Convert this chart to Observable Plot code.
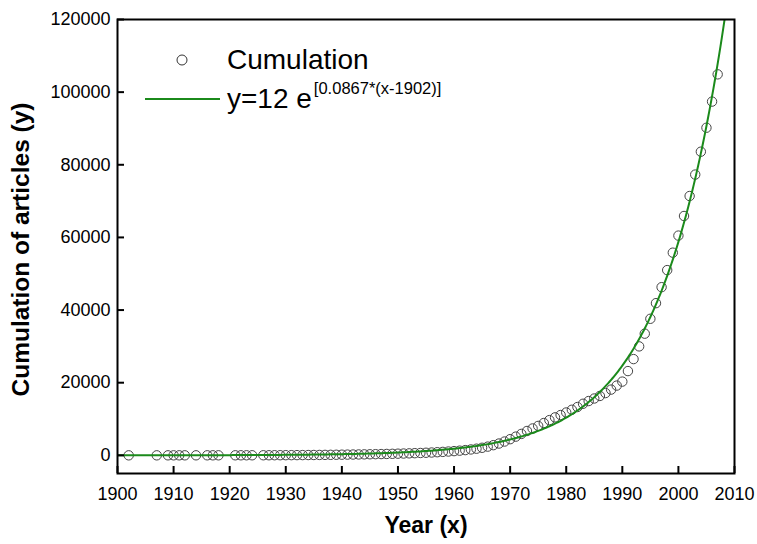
<!DOCTYPE html>
<html>
<head>
<meta charset="utf-8">
<script src="https://cdn.jsdelivr.net/npm/d3@7"></script>
<script src="https://cdn.jsdelivr.net/npm/@observablehq/plot@0.6"></script>
<style>
  html, body { margin: 0; padding: 0; background: #fff; }
  #chart { width: 757px; height: 544px; }
</style>
</head>
<body>
<div id="chart"></div>
<script>
// ---- data ----
const years = [1902,1907,1909,1910,1911,1912,1914,1916,1917,1918,1921,1922,1923,1924,
  1926,1927,1928,1929,1930,1931,1932,1933,1934,1935,1936,1937,1938,1939,
  1940,1941,1942,1943,1944,1945,1946,1947,1948,1949,
  1950,1951,1952,1953,1954,1955,1956,1957,1958,1959,
  1960,1961,1962,1963,1964,1965,1966,1967,1968,1969,
  1970,1971,1972,1973,1974,1975,1976,1977,1978,1979,
  1980,1981,1982,1983,1984,1985,1986,1987,1988,1989,
  1990,1991,1992,1993,1994,1995,1996,1997,1998,1999,
  2000,2001,2002,2003,2004,2005,2006,2007];
const cumulation = [1,2,3,4,5,6,7,8,9,10,12,14,16,18,
  21,25,30,36,43,51,60,70,82,95,110,126,143,162,
  182,203,224,246,270,295,322,352,385,420,
  460,500,545,595,650,710,780,860,950,1050,
  1160,1290,1440,1620,1830,2080,2400,2800,3250,3800,
  4450,5150,5900,6700,7400,8100,8900,9700,10450,11100,
  11800,12550,13300,14200,14950,15650,16350,17150,18100,19200,
  20300,23200,26500,30000,33500,37600,41900,46300,51000,55800,
  60500,65900,71400,77300,83600,90200,97400,104900];

// fitted curve stated on the chart: y = 12 e^[0.0867*(x-1902)]
const fitA = 12, fitB = 0.0867, fitX0 = 1902;
const fitYears = d3.range(1900, 2010.01, 0.25);

const xTicks = [1900,1910,1920,1930,1940,1950,1960,1970,1980,1990,2000,2010];
const yTicks = [0,20000,40000,60000,80000,100000,120000];

const xTitle = "Year (x)";
const yTitle = "Cumulation of articles (y)";
const legendDots = "Cumulation";
const legendFitMain = "y=12 e";
const legendFitSup = "[0.0867*(x-1902)]";

// ---- build tables ----
const points = years.map((y, i) => ({year: y, value: cumulation[i]}));
const fit = fitYears.map(x => ({year: x, value: fitA * Math.exp(fitB * (x - fitX0))}));

const FONT = "'Liberation Sans', Arial, sans-serif";
const GREEN = "#1b8a1b";

const chart = Plot.plot({
  width: 757,
  height: 544,
  marginLeft: 117,
  marginRight: 23,
  marginTop: 19,
  marginBottom: 71,
  style: {fontFamily: FONT, fontSize: "18px", color: "#000", background: "#fff"},
  x: {domain: [1900, 2010]},
  y: {domain: [-5000, 120000]},
  marks: [
    Plot.dot(points, {x: "year", y: "value", r: 4.7, stroke: "#444", strokeWidth: 1, fill: "none"}),
    Plot.line(fit, {x: "year", y: "value", stroke: GREEN, strokeWidth: 2, clip: true}),
    // tick labels
    Plot.axisX({ticks: xTicks, tickSize: 0, tickPadding: 14, tickFormat: d => String(d), label: null, fontSize: 18}),
    Plot.axisY({ticks: yTicks, tickSize: 0, tickPadding: 7, tickFormat: d => String(d), label: null, fontSize: 18}),
    // inward ticks
    Plot.axisX({ticks: xTicks, tickSize: 7, dy: -7, tickFormat: () => "", label: null, strokeWidth: 2}),
    Plot.axisY({ticks: yTicks, tickSize: 7, dx: 7, tickFormat: () => "", label: null, strokeWidth: 2}),
    Plot.frame({stroke: "#000", strokeWidth: 2}),
    Plot.text([xTitle], {frameAnchor: "bottom", lineAnchor: "middle", textAnchor: "middle", dy: 52, fontSize: 23, fontWeight: "bold", fill: "#000"}),
    Plot.text([yTitle], {frameAnchor: "left", lineAnchor: "middle", textAnchor: "middle", rotate: -90, dx: -96, dy: 3, fontSize: 24.5, fontWeight: "bold", fill: "#000"})
  ]
});

document.getElementById("chart").appendChild(chart);

// ---- legend (inside the frame, top-left) ----
const svg = d3.select(chart);
const lg = svg.append("g").attr("font-family", FONT).attr("fill", "#000").attr("text-anchor", "start");
lg.append("circle").attr("cx", 182).attr("cy", 60).attr("r", 5)
  .attr("fill", "none").attr("stroke", "#333").attr("stroke-width", 1);
lg.append("text").attr("x", 227).attr("y", 69).attr("font-size", 28).attr("text-anchor", "start").text(legendDots);
lg.append("line").attr("x1", 145).attr("x2", 220).attr("y1", 99).attr("y2", 99)
  .attr("stroke", GREEN).attr("stroke-width", 2);
const t2 = lg.append("text").attr("x", 227).attr("y", 108).attr("font-size", 28).attr("text-anchor", "start");
t2.append("tspan").text(legendFitMain);
t2.append("tspan").attr("font-size", 16.5).attr("dx", 2).attr("dy", -14).text(legendFitSup);
</script>
</body>
</html>
